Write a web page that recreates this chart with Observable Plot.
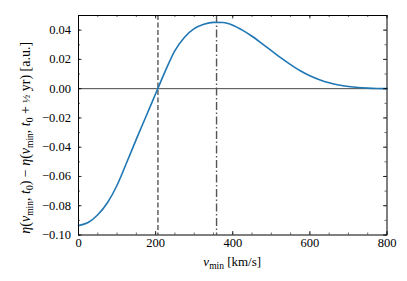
<!DOCTYPE html>
<html>
<head>
<meta charset="utf-8">
<script src="https://cdn.jsdelivr.net/npm/d3@7"></script>
<script src="https://cdn.jsdelivr.net/npm/@observablehq/plot@0.6"></script>
<style>
  html, body { margin: 0; padding: 0; background: #fff; }
  #chart svg { display: block; }
</style>
</head>
<body>
<div id="chart"></div>
<script>
// Data
const vmin = [0, 25, 50, 75, 100, 125, 150, 175, 200, 225, 250, 275, 300, 325, 350, 375, 400,
  425, 450, 475, 500, 525, 550, 575, 600, 625, 650, 675, 700, 725, 750, 775, 800];
const eta = [-0.0936, -0.0915, -0.0862, -0.0780, -0.0660, -0.0505, -0.0345, -0.0190, -0.0035, 0.0120,
  0.0260, 0.0352, 0.0410, 0.0440, 0.0453, 0.0452, 0.0434, 0.0400, 0.0358, 0.0310, 0.0260, 0.0210,
  0.0164, 0.0122, 0.0088, 0.0061, 0.0040, 0.0025, 0.0015, 0.0008, 0.0004, 0.00015, 0.0000];
const markerDashed = [206];
const markerDashDot = [358];
const xTicks = [0, 200, 400, 600, 800];
const xMinor = d3.range(0, 801, 50);
const yTicks = [-0.10, -0.08, -0.06, -0.04, -0.02, 0.00, 0.02, 0.04];
const yMinor = d3.range(-10, 6, 1).map(d => d / 100);

const data = vmin.map((v, i) => ({v, e: eta[i]}));

const W = 407, H = 281;
const mL = 78, mR = 20.5, mT = 15, mB = 46.5;
const ph = H - mT - mB, pw = W - mL - mR;
const major = 3.5, minor = 2;
const FONT = "Liberation Serif";

const plot = Plot.plot({
  width: W, height: H,
  marginLeft: mL, marginRight: mR, marginTop: mT, marginBottom: mB,
  style: {fontFamily: FONT, fontSize: "12.5px", color: "#000", background: "#fff"},
  x: {domain: [0, 800], label: null},
  y: {domain: [-0.1, 0.05], label: null},
  marks: [
    Plot.ruleY([0], {stroke: "#333", strokeWidth: 0.9}),
    Plot.ruleX(markerDashed, {stroke: "#555", strokeWidth: 1.4, strokeDasharray: "5,2.5"}),
    Plot.ruleX(markerDashDot, {stroke: "#555", strokeWidth: 1.4, strokeDasharray: "8,2.5,1.5,2.5"}),
    Plot.line(data, {x: "v", y: "e", stroke: "#1f77b4", strokeWidth: 1.6, curve: "monotone-x"}),
    // inward ticks, bottom & top
    Plot.tickX(xTicks, {x: d => d, insetTop: ph - major, stroke: "#000", strokeWidth: 0.8}),
    Plot.tickX(xTicks, {x: d => d, insetBottom: ph - major, stroke: "#000", strokeWidth: 0.8}),
    Plot.tickX(xMinor, {x: d => d, insetTop: ph - minor, stroke: "#000", strokeWidth: 0.6}),
    Plot.tickX(xMinor, {x: d => d, insetBottom: ph - minor, stroke: "#000", strokeWidth: 0.6}),
    // inward ticks, left & right
    Plot.tickY(yTicks, {y: d => d, insetRight: pw - major, stroke: "#000", strokeWidth: 0.8}),
    Plot.tickY(yTicks, {y: d => d, insetLeft: pw - major, stroke: "#000", strokeWidth: 0.8}),
    Plot.tickY(yMinor, {y: d => d, insetRight: pw - minor, stroke: "#000", strokeWidth: 0.6}),
    Plot.tickY(yMinor, {y: d => d, insetLeft: pw - minor, stroke: "#000", strokeWidth: 0.6}),
    Plot.axisX(xTicks, {tickSize: 0, tickPadding: 3.5, tickFormat: d => String(d), fontSize: 12.5, fontFamily: FONT}),
    Plot.axisY(yTicks, {tickSize: 0, tickPadding: 7.5, tickFormat: d => (d < 0 ? "\u2212" : "") + Math.abs(d).toFixed(2), fontSize: 12.5, fontFamily: FONT}),
    Plot.frame({stroke: "#000", strokeWidth: 1})
  ]
});

document.getElementById("chart").appendChild(plot);

// Math-style axis labels with real subscripts
const svg = d3.select(plot);
function build(sel, parts) {
  for (const [s, kind] of parts) {
    const t = sel.append("tspan").text(s);
    if (kind === "i") t.attr("font-style", "italic");
    if (kind === "s") t.attr("font-size", 9.5).attr("baseline-shift", "-3");
    if (kind === "f") t.attr("font-size", 10.5);
  }
}
const xl = svg.append("text")
  .attr("x", mL + pw / 2).attr("y", 266)
  .attr("text-anchor", "middle")
  .attr("font-size", 13).attr("fill", "#000");
build(xl, [["v", "i"], ["min", "s"], [" [km/s]", "r"]]);

const yl = svg.append("text")
  .attr("transform", `translate(29.5, ${mT + ph / 2 + 13}) rotate(-90)`)
  .attr("text-anchor", "middle")
  .attr("font-size", 14).attr("fill", "#000");
build(yl, [["η", "i"], ["(", "r"], ["v", "i"], ["min", "s"], [", ", "r"], ["t", "i"], ["0", "s"],
  [") − ", "r"], ["η", "i"], ["(", "r"], ["v", "i"], ["min", "s"], [", ", "r"], ["t", "i"], ["0", "s"],
  [" + ", "r"], ["½", "f"], [" yr) [a.u.]", "r"]]);

// make sure every text uses the serif face
svg.attr("font-family", FONT);
svg.selectAll("text, tspan").attr("font-family", FONT).style("font-family", FONT);
</script>
</body>
</html>
